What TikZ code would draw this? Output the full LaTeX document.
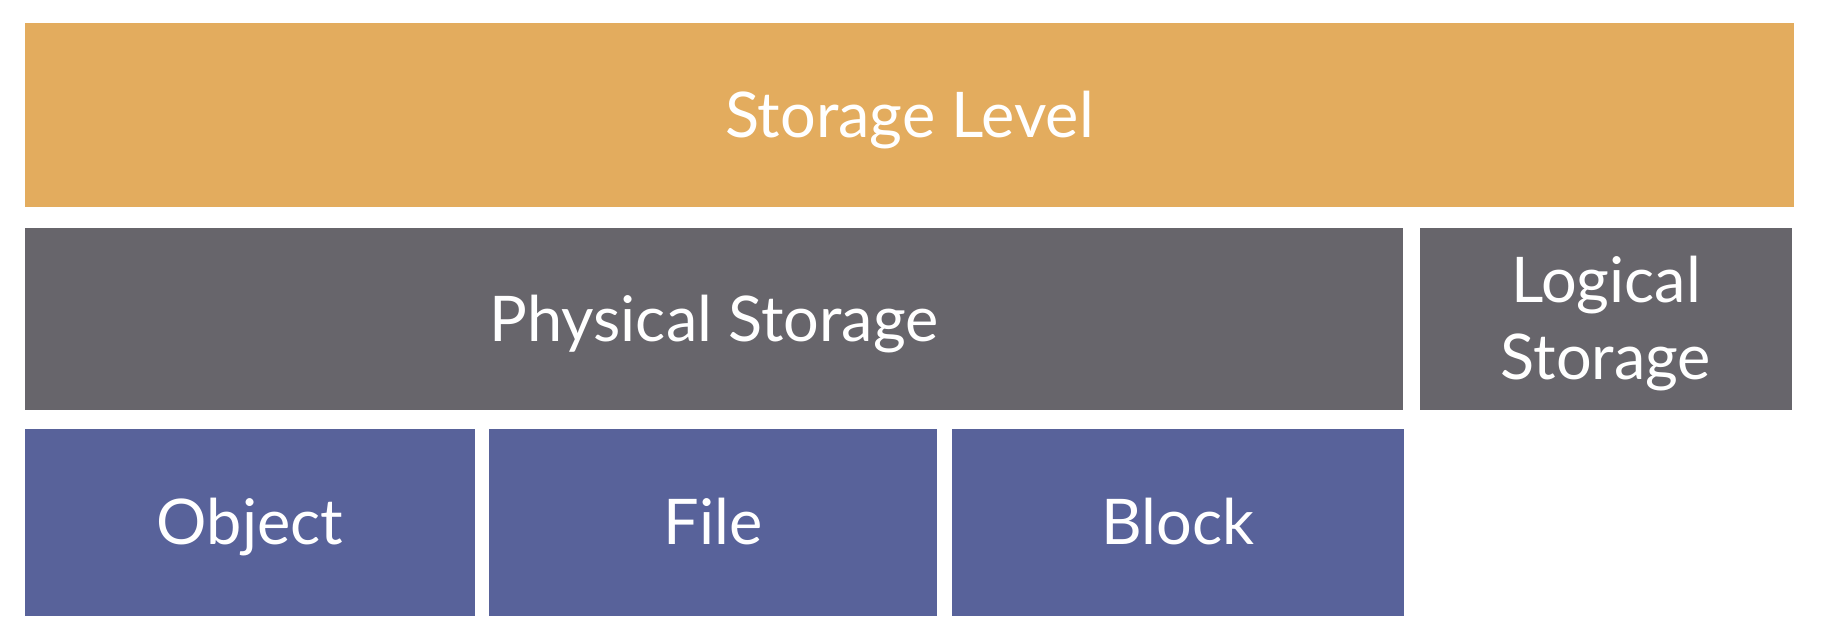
\documentclass[tikz,border=0pt]{standalone}
\usepackage{fontspec}
\setmainfont{Lato}
\usepackage{xcolor}
\usepackage{tikz}
\definecolor{levelorange}{RGB}{227,172,94}
\definecolor{storegray}{RGB}{103,101,107}
\definecolor{kindblue}{RGB}{88,98,154}
\begin{document}
\begin{tikzpicture}[x=1pt, y=-1pt,
    tier/.style={rectangle, inner sep=0pt, text=white, align=center,
        font=\fontsize{63}{77}\selectfont, text height=44pt, text depth=0pt}]
    \useasboundingbox (0,0) rectangle (1836,638);
    \fill[white] (0,0) rectangle (1836,638);

    \node[tier, fill=levelorange, minimum width=1769pt, minimum height=184pt] (level) at (909.5, 115) {Storage Level};

    \node[tier, fill=storegray, minimum width=1378pt, minimum height=182pt] (phys) at (714, 319) {Physical Storage};
    \node[tier, fill=storegray, minimum width=372pt, minimum height=182pt, text height=121pt] (logic) at (1606, 319) {Logical\\Storage};

    \node[tier, fill=kindblue, minimum width=450pt, minimum height=187pt] (obj) at (250, 522.5) {Object};
    \node[tier, fill=kindblue, minimum width=448pt, minimum height=187pt] (file) at (713, 522.5) {File};
    \node[tier, fill=kindblue, minimum width=452pt, minimum height=187pt] (block) at (1178, 522.5) {Block};
\end{tikzpicture}
\end{document}
